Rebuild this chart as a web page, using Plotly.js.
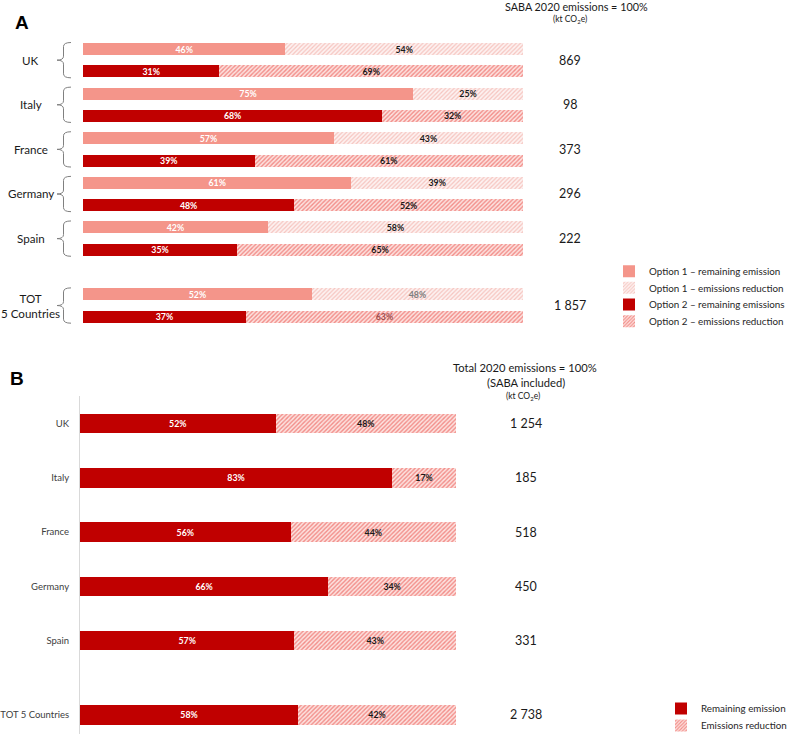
<!DOCTYPE html>
<html>
<head>
<meta charset="utf-8">
<script src="https://cdn.plot.ly/plotly-3.0.1.min.js"></script>
<style>html,body{margin:0;padding:0;background:#fff}#chart{width:787px;height:734px}</style>
</head>
<body>
<div id="chart"></div>
<script>
// ---------- Data ----------
const countriesA = ['UK', 'Italy', 'France', 'Germany', 'Spain', 'TOT<br>5 Countries'];
const opt1Remaining = [46, 75, 57, 61, 42, 52];
const opt1Reduction = [54, 25, 43, 39, 58, 48];
const opt2Remaining = [31, 68, 39, 48, 35, 37];
const opt2Reduction = [69, 32, 61, 52, 65, 63];
const sabaEmissions = ['869', '98', '373', '296', '222', '1 857'];

const countriesB = ['UK', 'Italy', 'France', 'Germany', 'Spain', 'TOT 5 Countries'];
const totalRemaining = [52, 83, 56, 66, 57, 58];
const totalReduction = [48, 17, 44, 34, 43, 42];
const totalEmissions = ['1 254', '185', '518', '450', '331', '2 738'];

const legendNamesA = ['Option 1 – remaining emission', 'Option 1 – emissions reduction',
                      'Option 2 – remaining emissions', 'Option 2 – emissions reduction'];
const legendNamesB = ['Remaining emission', 'Emissions reduction'];

// ---------- Layout helpers ----------
const W = 787, H = 734;
const px = x => x / W;
const py = y => 1 - y / H;
const FONT = 'Lato, "Open Sans", sans-serif';

// Panel A row positions (one empty row before the total)
const nA = countriesA.length;
const baseA = countriesA.map((c, i) => 2 * i + (i === nA - 1 ? 1 : 0));
const yOpt1 = baseA.slice();
const yOpt2 = baseA.map(b => b + 1);
const yGroupA = baseA.map(b => b + 0.5);
// Panel B row positions
const nB = countriesB.length;
const yB = countriesB.map((c, i) => i + (i === nB - 1 ? 0.37 : 0));

// Panel A axis pixel mapping
const aTop = 26.7, aBot = 339, aMin = -1, aMax = 13;
const rowPixA = r => aTop + (r - aMin) * (aBot - aTop) / (aMax - aMin);

const SALMON = '#f4958a', DARKRED = '#c00000';
const pct = arr => arr.map(v => v + '%');
const lastGray = (arr, normal, last) => arr.map((v, i) => i === arr.length - 1 ? last : normal);

const labelFont = (colors) => ({family: FONT, size: 8.8, color: colors, weight: 'bold'});
const barCommon = {type: 'bar', orientation: 'h', textposition: 'inside', insidetextanchor: 'middle',
  constraintext: 'none', hoverinfo: 'skip', textangle: 0};
const hatchLight = {shape: '/', fgcolor: '#f6c4bf', bgcolor: '#fdf2f1', size: 3, solidity: 0.4};
const hatchPink = {shape: '/', fgcolor: '#f28c88', bgcolor: '#fde3e0', size: 3, solidity: 0.45};

const traces = [
  Object.assign({}, barCommon, {
    name: legendNamesA[0], x: opt1Remaining, y: yOpt1, xaxis: 'x', yaxis: 'y', width: 0.54,
    marker: {color: SALMON, line: {width: 0}},
    text: pct(opt1Remaining), textfont: labelFont('#ffffff'), legend: 'legend'
  }),
  Object.assign({}, barCommon, {
    name: legendNamesA[1], x: opt1Reduction, y: yOpt1, xaxis: 'x', yaxis: 'y', width: 0.54,
    marker: {color: '#fdf2f1', line: {width: 0}, pattern: hatchLight},
    text: pct(opt1Reduction), textfont: labelFont(lastGray(opt1Reduction, '#1a1a1a', '#7f7f7f')), legend: 'legend2'
  }),
  Object.assign({}, barCommon, {
    name: legendNamesA[2], x: opt2Remaining, y: yOpt2, xaxis: 'x', yaxis: 'y', width: 0.54,
    marker: {color: DARKRED, line: {width: 0}},
    text: pct(opt2Remaining), textfont: labelFont('#ffffff'), legend: 'legend3'
  }),
  Object.assign({}, barCommon, {
    name: legendNamesA[3], x: opt2Reduction, y: yOpt2, xaxis: 'x', yaxis: 'y', width: 0.54,
    marker: {color: '#fde3e0', line: {width: 0}, pattern: hatchPink},
    text: pct(opt2Reduction), textfont: labelFont(lastGray(opt2Reduction, '#1a1a1a', '#a05050')), legend: 'legend4'
  }),
  Object.assign({}, barCommon, {
    name: legendNamesB[0], x: totalRemaining, y: yB, xaxis: 'x2', yaxis: 'y2', width: 0.36,
    marker: {color: DARKRED, line: {width: 0}},
    text: pct(totalRemaining), textfont: labelFont('#ffffff'), legend: 'legend5'
  }),
  Object.assign({}, barCommon, {
    name: legendNamesB[1], x: totalReduction, y: yB, xaxis: 'x2', yaxis: 'y2', width: 0.36,
    marker: {color: '#fde3e0', line: {width: 0}, pattern: hatchPink},
    text: pct(totalReduction), textfont: labelFont('#1a1a1a'), legend: 'legend6'
  })
];

// ---------- Annotations ----------
const annotations = [];
const txt = (text, x, y, size, extra) => Object.assign({text: text, xref: 'paper', yref: 'paper', x: px(x), y: py(y),
  showarrow: false, font: {family: FONT, size: size, color: '#1a1a1a'}, xanchor: 'center', yanchor: 'middle'}, extra || {});

annotations.push(txt('<b>A</b>', 21.5, 22, 19, {font: {family: '"Liberation Sans", Arial, sans-serif', size: 19, color: '#000'}}));
annotations.push(txt('<b>B</b>', 17, 378, 19, {font: {family: '"Liberation Sans", Arial, sans-serif', size: 19, color: '#000'}}));
// Panel A header
annotations.push(txt('SABA 2020 emissions = 100%', 576, 7, 10.8));
annotations.push(txt('(kt CO<sub>2</sub>e)', 570, 20, 8.5));
// Panel B header
annotations.push(txt('Total 2020 emissions = 100%', 525, 367, 11.2));
annotations.push(txt('(SABA included)', 526, 382, 11.2));
annotations.push(txt('(kt CO<sub>2</sub>e)', 523, 396, 8.5));

countriesA.forEach((c, i) => {
  annotations.push({text: c, xref: 'paper', yref: 'y', x: px(30.5), y: yGroupA[i], showarrow: false, align: 'center',
    font: {family: FONT, size: 11.6, color: '#1a1a1a'}, xanchor: 'center', yanchor: 'middle'});
  annotations.push({text: sabaEmissions[i], xref: 'paper', yref: 'y', x: px(570), y: yGroupA[i], showarrow: false,
    font: {family: FONT, size: 12.5, color: '#1a1a1a'}, xanchor: 'center', yanchor: 'middle'});
});
countriesB.forEach((c, i) => {
  annotations.push({text: totalEmissions[i], xref: 'paper', yref: 'y2', x: px(526), y: yB[i], showarrow: false,
    font: {family: FONT, size: 12.5, color: '#1a1a1a'}, xanchor: 'center', yanchor: 'middle'});
});

// ---------- Braces ----------
const shapes = [];
baseA.forEach(b => {
  const t = rowPixA(b) - 6.5, bt = rowPixA(b + 1) + 6.5, m = (t + bt) / 2;
  const hX = 71, vX = 63.5, tX = 57;
  const P = (x, y) => px(x) + ',' + py(y);
  const path = 'M' + P(hX, t) + ' Q' + P(vX, t) + ' ' + P(vX, t + 4) + ' L' + P(vX, m - 4) +
    ' Q' + P(vX, m) + ' ' + P(tX, m) + ' Q' + P(vX, m) + ' ' + P(vX, m + 4) +
    ' L' + P(vX, bt - 4) + ' Q' + P(vX, bt) + ' ' + P(hX, bt);
  shapes.push({type: 'path', xref: 'paper', yref: 'paper', path: path, line: {color: '#808080', width: 1}});
});

// one legend per entry, so each entry can sit where the reference shows it
const legendBox = (left, centerY, size) => ({x: px(left), y: py(centerY - 14), xanchor: 'left', yanchor: 'top',
  font: {family: FONT, size: size, color: '#262626'}, bgcolor: 'rgba(0,0,0,0)', borderwidth: 0, itemwidth: 30});

const layout = {
  width: W, height: H,
  margin: {l: 0, r: 0, t: 0, b: 0, autoexpand: false},
  paper_bgcolor: '#ffffff', plot_bgcolor: 'rgba(0,0,0,0)',
  barmode: 'stack', bargap: 0, hovermode: false,
  font: {family: FONT, color: '#1a1a1a'},
  xaxis: {domain: [px(83), px(523)], range: [0, 100], visible: false, fixedrange: true},
  yaxis: {domain: [py(aBot), py(aTop)], range: [aMax, aMin], visible: false, fixedrange: true},
  xaxis2: {domain: [px(80), px(456)], range: [0, 100], visible: false, fixedrange: true, anchor: 'y2'},
  yaxis2: {domain: [0, py(396)], range: [(734 - 423.7) / 54.2, (396 - 423.7) / 54.2], anchor: 'x2',
    showline: true, linecolor: '#d9d9d9', linewidth: 1, showgrid: false, zeroline: false, ticks: '',
    tickvals: yB, ticktext: countriesB, ticklabelstandoff: 8,
    tickfont: {family: FONT, size: 9.5, color: '#404040'}, fixedrange: true},
  legend: legendBox(609, 270.7, 9.8),
  legend2: legendBox(609, 287.3, 9.8),
  legend3: legendBox(609, 304, 9.8),
  legend4: legendBox(609, 320.7, 9.8),
  legend5: legendBox(661, 708, 9.8),
  legend6: legendBox(661, 725, 9.8),
  showlegend: true,
  annotations: annotations,
  shapes: shapes
};

Plotly.newPlot('chart', traces, layout, {displayModeBar: false, staticPlot: true});
</script>
</body>
</html>
